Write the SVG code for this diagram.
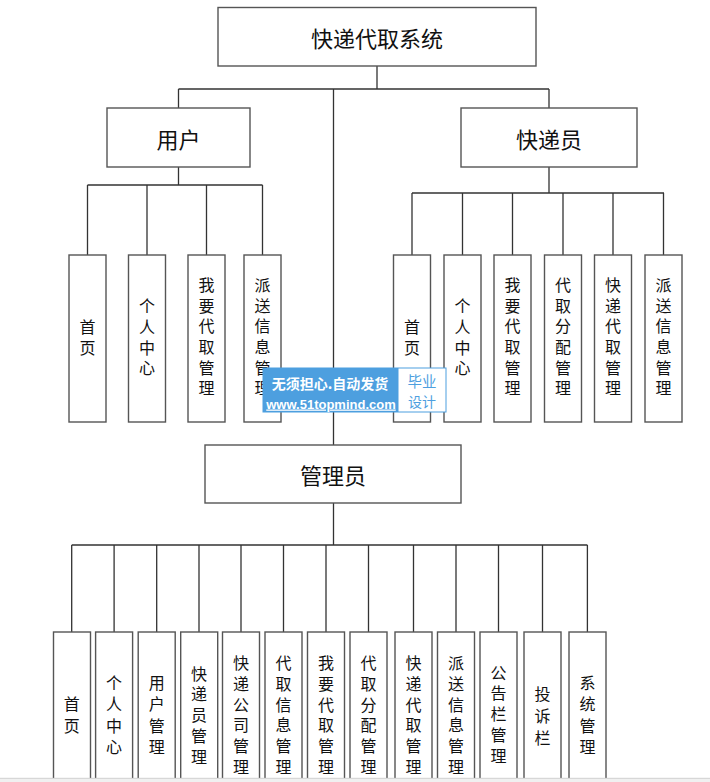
<svg xmlns="http://www.w3.org/2000/svg" width="710" height="782" viewBox="0 0 710 782">
<style>
.box{fill:#fff;stroke:#555;stroke-width:1.4}
.ln{fill:none;stroke:#333;stroke-width:1.3}
.h{font-family:"Noto Sans CJK SC","Liberation Sans",sans-serif;font-size:22px;fill:#111;text-anchor:middle;dominant-baseline:central}
.v{font-family:"Noto Sans CJK SC","Liberation Sans",sans-serif;font-size:16px;fill:#111;text-anchor:middle;writing-mode:vertical-rl;text-orientation:upright;letter-spacing:4.7px}
.w{font-family:"Noto Sans CJK SC","Liberation Sans",sans-serif;text-anchor:middle;dominant-baseline:central}
</style>
<rect width="710" height="782" fill="#fff"/>
<g id="connectors">
<path class="ln" d="M377 66V89M178.5 89H549M333.5 89V445M178.5 89V108M549 89V108"/>
<path class="ln" d="M178.5 167V185M87.5 185H262.5M87.5 185V255M147 185V255M206.5 185V255M262.5 185V255"/>
<path class="ln" d="M549 167V193M412 193H664M412 193V255M462.5 193V255M512.5 193V255M563 193V255M613 193V255M663.5 193V255"/>
<path class="ln" d="M333.5 503V545M71.7 545H587.4M71.7 545V632M114.1 545V632M156.7 545V632M199 545V632M241 545V632M283.5 545V632M326 545V632M368.5 545V632M413.5 545V632M456 545V632M498.5 545V632M542.5 545V632M587.4 545V632"/>
</g>
<g id="root"><rect class="box" x="218" y="7.5" width="318" height="58.5"/><text class="h" x="377" y="37">快递代取系统</text></g>
<g id="user"><rect class="box" x="107" y="108" width="143" height="59"/><text class="h" x="178.5" y="137.5">用户</text></g>
<g id="courier"><rect class="box" x="461" y="108" width="176" height="59"/><text class="h" x="549" y="137.5">快递员</text></g>
<g id="admin"><rect class="box" x="205" y="445" width="256" height="58"/><text class="h" x="333" y="474">管理员</text></g>
<g id="user-children">
<g id="u1"><rect class="box" x="69" y="255" width="37" height="167"/><text class="v" x="87.5" y="340" style="letter-spacing:5px">首页</text></g>
<g id="u2"><rect class="box" x="128.5" y="255" width="37" height="167"/><text class="v" x="147" y="339.5">个人中心</text></g>
<g id="u3"><rect class="box" x="188" y="255" width="37" height="167"/><text class="v" x="206.5" y="339">我要代取管理</text></g>
<g id="u4"><rect class="box" x="244" y="255" width="37" height="167"/><text class="v" x="262.5" y="339">派送信息管理</text></g>
</g>
<g id="courier-children">
<g id="k1"><rect class="box" x="393.5" y="255" width="37" height="167"/><text class="v" x="412" y="340" style="letter-spacing:5px">首页</text></g>
<g id="k2"><rect class="box" x="444" y="255" width="37" height="167"/><text class="v" x="462.5" y="339.5">个人中心</text></g>
<g id="k3"><rect class="box" x="494" y="255" width="37" height="167"/><text class="v" x="512.5" y="339">我要代取管理</text></g>
<g id="k4"><rect class="box" x="544.5" y="255" width="37" height="167"/><text class="v" x="563" y="339">代取分配管理</text></g>
<g id="k5"><rect class="box" x="594.5" y="255" width="37" height="167"/><text class="v" x="613" y="339">快递代取管理</text></g>
<g id="k6"><rect class="box" x="645" y="255" width="37" height="167"/><text class="v" x="663.5" y="339">派送信息管理</text></g>
</g>
<g id="admin-children">
<g id="a1"><rect class="box" x="53.5" y="632" width="37" height="170"/><text class="v" x="71.7" y="718" style="letter-spacing:6px">首页</text></g>
<g id="a2"><rect class="box" x="95.6" y="632" width="37" height="170"/><text class="v" x="114.1" y="717.7" style="letter-spacing:5.3px">个人中心</text></g>
<g id="a3"><rect class="box" x="138.2" y="632" width="37" height="170"/><text class="v" x="156.7" y="717.7" style="letter-spacing:5.3px">用户管理</text></g>
<g id="a4"><rect class="box" x="180.7" y="632" width="37" height="170"/><text class="v" x="199" y="717.6" style="letter-spacing:4.8px">快递员管理</text></g>
<g id="a5"><rect class="box" x="222.5" y="632" width="37" height="170"/><text class="v" x="241" y="717.4">快递公司管理</text></g>
<g id="a6"><rect class="box" x="265" y="632" width="37" height="170"/><text class="v" x="283.5" y="717.4">代取信息管理</text></g>
<g id="a7"><rect class="box" x="307.5" y="632" width="37" height="170"/><text class="v" x="326" y="717.4">我要代取管理</text></g>
<g id="a8"><rect class="box" x="350" y="632" width="37" height="170"/><text class="v" x="368.5" y="717.4">代取分配管理</text></g>
<g id="a9"><rect class="box" x="395" y="632" width="37" height="170"/><text class="v" x="413.5" y="717.4">快递代取管理</text></g>
<g id="a10"><rect class="box" x="437.5" y="632" width="37" height="170"/><text class="v" x="456" y="717.4">派送信息管理</text></g>
<g id="a11"><rect class="box" x="480" y="632" width="37" height="170"/><text class="v" x="498.5" y="716.6" style="letter-spacing:4.8px">公告栏管理</text></g>
<g id="a12"><rect class="box" x="524" y="632" width="37" height="170"/><text class="v" x="542.5" y="719" style="letter-spacing:6px">投诉栏</text></g>
<g id="a13"><rect class="box" x="569" y="632" width="37" height="170"/><text class="v" x="587.4" y="717.7" style="letter-spacing:5.3px">系统管理</text></g>
</g>
<g id="watermark">
<rect x="262.5" y="367.5" width="184" height="45" fill="#4d9fdf"/>
<rect x="398.5" y="368.5" width="47" height="43" fill="#fff"/>
<text class="w" x="330" y="382.5" font-size="14" font-weight="bold" fill="#fff">无须担心.自动发货</text>
<text x="331" y="408.5" font-family="Liberation Sans,sans-serif" font-size="13" font-weight="bold" fill="#fff" text-anchor="middle" text-decoration="underline">www.51topmind.com</text>
<text class="w" x="422" y="380.5" font-size="14.5" fill="#4d9fdf">毕业</text>
<text class="w" x="422" y="401" font-size="14" fill="#4d9fdf">设计</text>
</g>
<rect x="0" y="778" width="710" height="4" fill="#f0f0f0"/>
<line x1="0" y1="778.3" x2="710" y2="778.3" stroke="#c8c8c8" stroke-width="0.8"/>
</svg>
